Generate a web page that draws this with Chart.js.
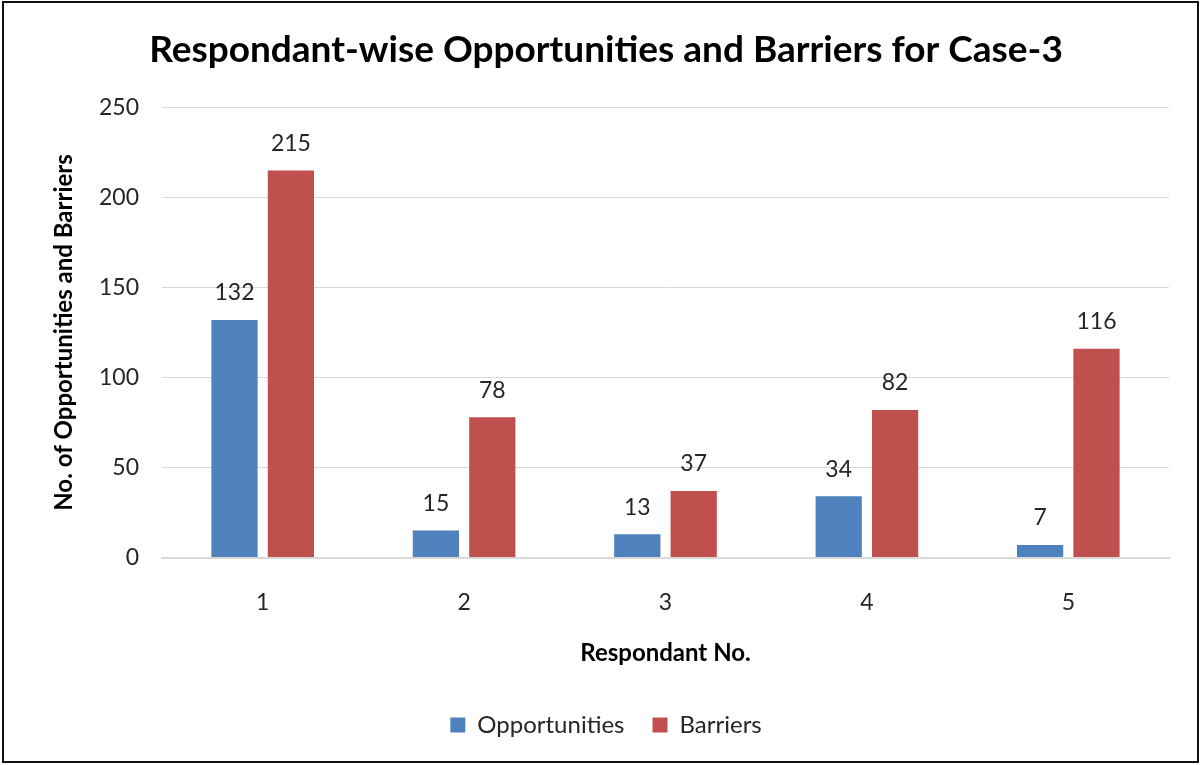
<!DOCTYPE html>
<html>
<head>
<meta charset="utf-8">
<script src="https://cdn.jsdelivr.net/npm/chart.js@4"></script>
<style>
  html, body { margin: 0; padding: 0; background: #fff; }
  #wrap {
    position: absolute; left: 2px; top: 1px;
    width: 1193px; height: 758px;
    border: 2px solid #111;
    box-sizing: content-box;
  }
  canvas { position: absolute; left: -2px; top: -1px; }
</style>
</head>
<body>
<div id="wrap"><canvas id="chart" width="1201" height="765"></canvas></div>
<script>
// Respondent numbers and counts per category
const respondants = ["1", "2", "3", "4", "5"];
const opportunities = [132, 15, 13, 34, 7];
const barriers = [215, 78, 37, 82, 116];
const yTicks = [0, 50, 100, 150, 200, 250];

const FONT = "Lato, Calibri, 'Open Sans', sans-serif";

// Draws the value above each bar
const valueLabels = {
  id: "valueLabels",
  afterDatasetsDraw(chart) {
    const ctx = chart.ctx;
    ctx.save();
    ctx.font = "23px " + FONT;
    ctx.fillStyle = "#262626";
    ctx.textAlign = "center";
    ctx.textBaseline = "middle";
    chart.data.datasets.forEach((ds, i) => {
      chart.getDatasetMeta(i).data.forEach((bar, j) => {
        ctx.fillText(ds.data[j], bar.x, bar.y - 27);
      });
    });
    ctx.restore();
  }
};

const ctx = document.getElementById("chart").getContext("2d");
const chart = new Chart(ctx, {
  type: "bar",
  data: {
    labels: respondants,
    datasets: [
      {
        label: "Opportunities",
        data: opportunities,
        backgroundColor: "#4F81BD",
        categoryPercentage: 0.56,
        barPercentage: 0.82
      },
      {
        label: "Barriers",
        data: barriers,
        backgroundColor: "#C0504D",
        categoryPercentage: 0.56,
        barPercentage: 0.82
      }
    ]
  },
  options: {
    responsive: false,
    animation: false,
    layout: { padding: { left: 41, right: 34, top: 20, bottom: 20 } },
    plugins: {
      title: {
        display: true,
        text: "Respondant-wise Opportunities and Barriers for Case-3",
        color: "#000",
        font: { family: FONT, size: 37, weight: "bold" },
        padding: { top: 6, bottom: 35 }
      },
      legend: {
        position: "bottom",
        labels: {
          color: "#262626",
          font: { family: FONT, size: 24 },
          boxWidth: 15,
          boxHeight: 15,
          padding: 28
        }
      },
      tooltip: { enabled: false }
    },
    scales: {
      x: {
        grid: { display: false },
        border: { color: "#d9d9d9", width: 2 },
        ticks: {
          color: "#262626",
          font: { family: FONT, size: 23 },
          padding: 23
        },
        title: {
          display: true,
          text: "Respondant No.",
          color: "#000",
          font: { family: FONT, size: 24, weight: "bold" },
          padding: { top: 0, bottom: 17 }
        }
      },
      y: {
        min: 0,
        max: 250,
        afterBuildTicks(scale) {
          scale.ticks = yTicks.map(v => ({ value: v }));
        },
        afterFit(scale) {
          scale.width = 119;
        },
        grid: { color: "#d9d9d9", drawTicks: false },
        border: { display: false },
        ticks: {
          color: "#262626",
          font: { family: FONT, size: 23 },
          padding: 23
        },
        title: {
          display: true,
          text: "No. of Opportunities and Barriers",
          color: "#000",
          font: { family: FONT, size: 24, weight: "bold" },
          padding: { top: 7, bottom: 10 }
        }
      }
    }
  },
  plugins: [valueLabels]
});
</script>
</body>
</html>
